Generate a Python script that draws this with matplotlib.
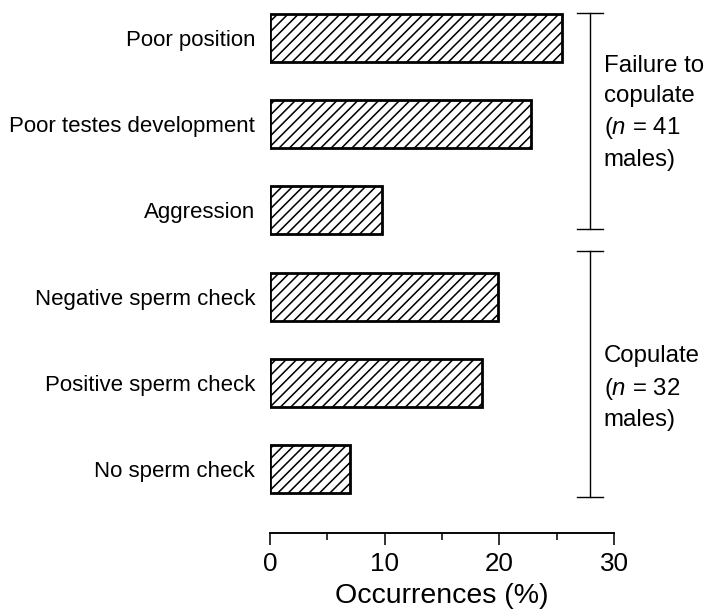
import numpy as np
import matplotlib
matplotlib.use("Agg")
import matplotlib.pyplot as plt

# Datos
categories = ["Poor position", "Poor testes development", "Aggression",
              "Negative sperm check", "Positive sperm check", "No sperm check"]
occurrences = [25.5, 22.8, 9.8, 19.9, 18.5, 7.0]

# Grupos de la derecha (texto, extension del corchete y posicion del texto)
groupLabels = ["Failure to\ncopulate\n($\\it{n}$ = 41\nmales)",
               "Copulate\n($\\it{n}$ = 32\nmales)"]
groupSpans = [(-0.29, 2.22), (2.47, 5.32)]
groupTextY = [0.87, 4.06]

plt.rcParams["font.family"] = ["Liberation Sans", "DejaVu Sans"]
plt.rcParams["mathtext.fontset"] = "custom"
plt.rcParams["mathtext.rm"] = "Liberation Sans"
plt.rcParams["mathtext.it"] = "Liberation Sans:italic"
plt.rcParams["hatch.linewidth"] = 0.9
plt.rcParams["hatch.color"] = "black"

fig = plt.figure(figsize=(5.68, 4.888), dpi=125)
ax = fig.add_axes([0.3803, 0.1277, 0.4845, 0.8723])

#Grafica las barras horizontales con rayado
pos = np.arange(len(categories))
ax.barh(pos, occurrences, height=0.556, color="white", edgecolor="black",
        linewidth=1.6, hatch="////")

ax.set_xlim(0, 30)
ax.set_ylim(5.74, -0.44)
ax.set_yticks(pos)
ax.set_yticklabels(categories, fontsize=12.8)
ax.tick_params(axis="y", length=0, pad=8.6)

ax.set_xticks([0, 10, 20, 30])
ax.set_xticks([5, 15, 25], minor=True)
ax.tick_params(axis="x", which="major", length=6.9, width=0.9, pad=4.3,
               labelsize=15)
ax.tick_params(axis="x", which="minor", length=4, width=0.9)
ax.set_xlabel("Occurrences (%)", fontsize=16.4, labelpad=4)

for side in ["left", "right", "top"]:
    ax.spines[side].set_visible(False)
ax.spines["bottom"].set_linewidth(1.1)

#Dibuja los corchetes y los textos de cada grupo
bx = 27.9
cap = 1.13
for label, (y0, y1), ty in zip(groupLabels, groupSpans, groupTextY):
    ax.plot([bx, bx], [y0, y1], color="black", lw=0.8, clip_on=False)
    ax.plot([bx - cap, bx + cap], [y0, y0], color="black", lw=0.8, clip_on=False)
    ax.plot([bx - cap, bx + cap], [y1, y1], color="black", lw=0.8, clip_on=False)
    ax.text(29.1, ty, label, fontsize=13.8, ha="left",
            va="center", linespacing=1.45, clip_on=False)

plt.savefig("out.png", dpi=125)
